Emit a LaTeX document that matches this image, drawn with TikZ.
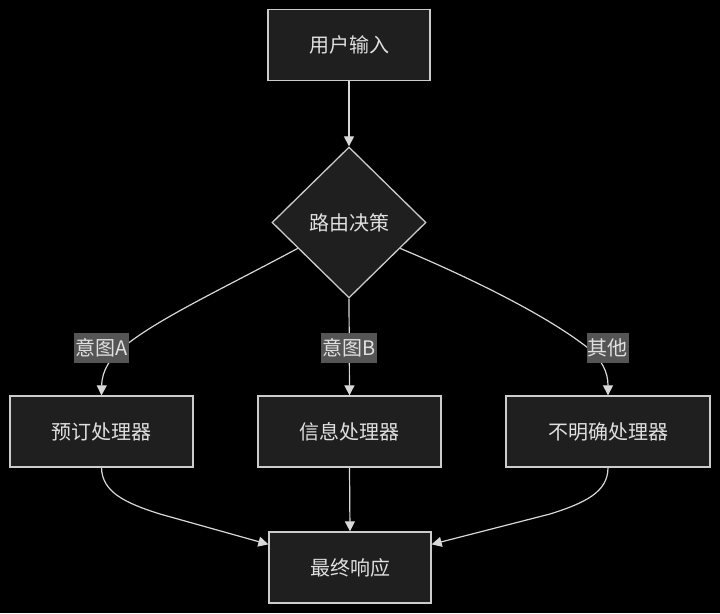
\documentclass[tikz,border=0pt]{standalone}
\usepackage{fontspec}
\setmainfont{Noto Sans CJK SC}
\usetikzlibrary{shapes.geometric,arrows.meta,calc}
\definecolor{bgc}{HTML}{000000}
\definecolor{boxfill}{HTML}{1F1F1F}
\definecolor{boxline}{HTML}{CCCCCC}
\definecolor{txt}{HTML}{E0E0E0}
\definecolor{edgec}{HTML}{D8D8D8}
\definecolor{lblbg}{HTML}{555555}
\begin{document}
\begin{tikzpicture}[x=1pt,y=-1pt,
  box/.style={draw=boxline,fill=boxfill,line width=1.3pt,text=txt,font=\fontsize{20}{24}\selectfont,inner sep=0pt,minimum height=71pt},
  dia/.style={diamond,aspect=1,draw=boxline,fill=boxfill,line width=1.3pt,text=txt,font=\fontsize{20}{24}\selectfont,inner sep=0pt,minimum width=154pt,minimum height=151pt},
  edge/.style={draw=edgec,line width=1.2pt,-{Triangle[length=10pt,width=10pt]}},
  lbl/.style={fill=lblbg,text=txt,font=\fontsize{20}{24}\selectfont,inner xsep=1pt,inner ysep=0pt,minimum height=30pt}
]
\fill[bgc] (0,0) rectangle (720,613);
\useasboundingbox (0,0) rectangle (720,613);

\node[box,minimum width=162pt] (in) at (349,45) {用户输入};
\node[dia] (dec) at (349,222.5) {路由决策};
\node[box,minimum width=183pt] (A) at (101.5,431.5) {预订处理器};
\node[box,minimum width=183pt] (B) at (349.5,431.5) {信息处理器};
\node[box,minimum width=204pt] (C) at (608,431.5) {不明确处理器};
\node[box,minimum width=162pt] (F) at (350,567.5) {最终响应};

\coordinate (dl) at ($(dec.west)!0.34!(dec.south)$);
\coordinate (dr) at ($(dec.east)!0.34!(dec.south)$);
\coordinate (fl) at ($(F.north west)!0.18!(F.south west)$);
\coordinate (fr) at ($(F.north east)!0.18!(F.south east)$);

\draw[edge] (in) -- (dec);
\draw[edge] (dl) .. controls (220,290) and (160,318) .. (126,345) .. controls (110,358) and (102,370) .. (A.north);
\draw[edge] (dec.south) -- (B.north);
\draw[edge] (dr) .. controls (480,282) and (550,318) .. (588,348) .. controls (602,360) and (608,372) .. (C.north);
\draw[edge] (A.south) .. controls (102,492) and (125,503) .. (160,514) -- (fl);
\draw[edge] (C.south) .. controls (608,492) and (585,503) .. (550,514) -- (fr);
\draw[edge] (B.south) -- (F.north);

\node[lbl] (la) at (101.5,348) {意图A};
\node[lbl] (lb) at (349,348) {意图B};
\node[lbl] (lc) at (607.5,348) {其他};
\end{tikzpicture}
\end{document}
